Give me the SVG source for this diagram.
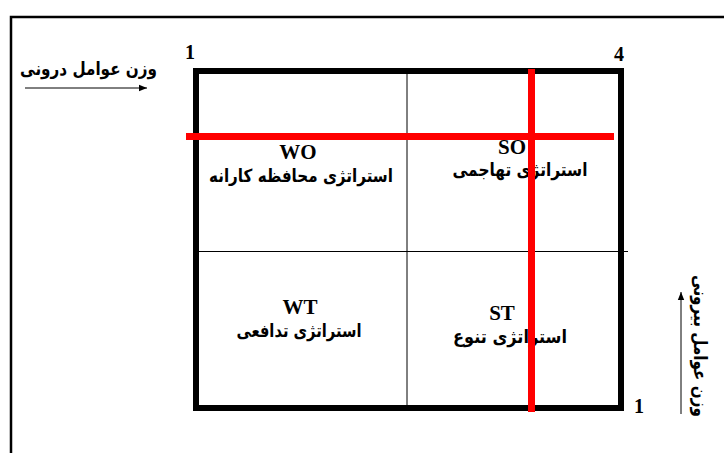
<svg xmlns="http://www.w3.org/2000/svg" width="724" height="453" viewBox="0 0 724 453">
<defs>
<style>
.num{font-family:"Liberation Serif","Times New Roman",serif;font-weight:bold;font-size:20px;fill:#000}
.code{font-family:"Liberation Serif","Times New Roman",serif;font-weight:bold;font-size:21px;fill:#000;text-anchor:middle}
.fa{font-family:"DejaVu Sans","Liberation Sans",sans-serif;font-weight:bold;font-size:18px;fill:#000;text-anchor:middle}
.axis{font-family:"DejaVu Sans","Liberation Sans",sans-serif;font-weight:bold;font-size:18px;fill:#000}
.thin{stroke:#000;stroke-width:1;fill:none}
.red{stroke:#ff0000;stroke-width:7;fill:none}
</style>
<marker id="ah" viewBox="0 0 10 10" refX="10" refY="5" markerWidth="8" markerHeight="8" markerUnits="userSpaceOnUse" orient="auto">
<path d="M0,1 L10,5 L0,9 z" fill="#000"/>
</marker>
</defs>
<rect width="724" height="453" fill="#fff"/>
<!-- page frame -->
<path d="M11,453 V17 H724" stroke="#000" stroke-width="2.5" fill="none"/>
<!-- matrix -->
<g id="matrix">
<line class="thin" x1="407" y1="71" x2="407" y2="408"/>
<line class="thin" x1="196" y1="251.5" x2="628" y2="251.5"/>
<rect x="196" y="71" width="425" height="337" fill="none" stroke="#000" stroke-width="6"/>
</g>
<g id="quad-WO">
<text class="code" x="298" y="159">WO</text>
<text class="fa" x="301" y="182" textLength="184" lengthAdjust="spacingAndGlyphs">استراتژی محافظه کارانه</text>
</g>
<g id="quad-SO">
<text class="code" x="512" y="154">SO</text>
<text class="fa" x="520" y="176" textLength="135" lengthAdjust="spacingAndGlyphs">استراتژی تهاجمی</text>
</g>
<g id="quad-WT">
<text class="code" x="300" y="314">WT</text>
<text class="fa" x="299" y="337" textLength="125" lengthAdjust="spacingAndGlyphs">استراتژی تدافعی</text>
</g>
<g id="quad-ST">
<text class="code" x="502" y="320">ST</text>
<text class="fa" x="510" y="343" textLength="114" lengthAdjust="spacingAndGlyphs">استراتژی تنوع</text>
</g>
<g id="connectors">
<line class="red" x1="186" y1="136.5" x2="614" y2="136.5"/>
<line class="red" x1="531.5" y1="69" x2="531.5" y2="412"/>
<line stroke="#000" stroke-width="1" x1="25" y1="88" x2="147" y2="88" marker-end="url(#ah)"/>
<line stroke="#000" stroke-width="1" x1="681" y1="414" x2="681" y2="292" marker-end="url(#ah)"/>
</g>
<g id="labels">
<text class="num" x="185" y="59">1</text>
<text class="num" x="614" y="61">4</text>
<text class="num" x="634" y="413">1</text>
<text class="axis" x="88.5" y="75" text-anchor="middle" textLength="137" lengthAdjust="spacingAndGlyphs">وزن عوامل درونی</text>
<text class="axis" transform="translate(694,346) rotate(90)" text-anchor="middle" textLength="142" lengthAdjust="spacingAndGlyphs">وزن عوامل بیرونی</text>
</g>
</svg>
